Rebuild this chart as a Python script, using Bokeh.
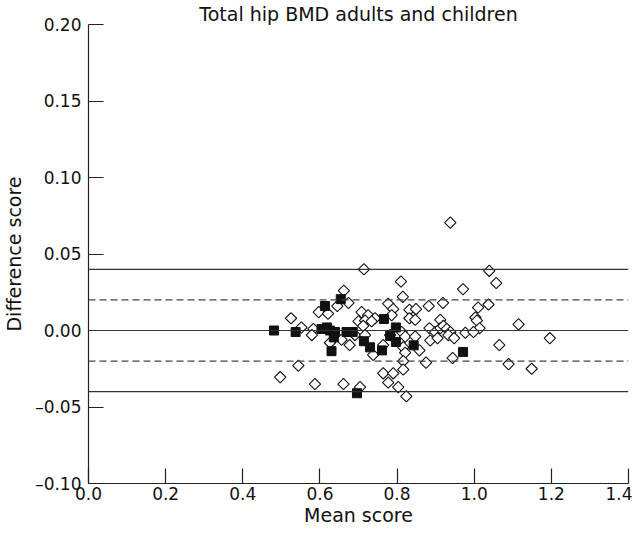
from bokeh.plotting import figure
from bokeh.models import FixedTicker, Span, Range1d
from bokeh.embed import file_html
from bokeh.resources import INLINE
import numpy as np

# Open diamonds: (mean score, difference score)
open_x = [0.714, 0.810, 0.662, 0.815, 0.674, 0.645, 0.597, 0.621, 0.525, 0.708,
          0.725, 0.743, 0.700, 0.717, 0.712, 0.734, 0.777, 0.790, 0.786, 0.552,
          0.583, 0.579, 0.656, 0.626, 0.677, 0.691, 0.738, 0.544, 0.497, 0.587,
          0.661, 0.704, 0.764, 0.790, 0.777, 0.803, 0.824, 0.816, 0.821, 0.816,
          0.816, 0.812, 0.821, 0.938, 1.039, 1.057, 0.971, 0.882, 0.919, 0.832,
          0.849, 0.832, 0.847, 1.010, 1.037, 1.003, 1.007, 0.912, 1.014, 1.115,
          1.196, 0.884, 0.899, 0.912, 0.920, 0.929, 0.938, 0.977, 0.998, 0.886,
          0.905, 0.933, 0.948, 0.858, 0.875, 0.944, 1.065, 1.089, 1.149, 0.847,
          0.717, 0.782, 0.764]
open_y = [0.040, 0.032, 0.026, 0.022, 0.018, 0.016, 0.012, 0.011, 0.008, 0.012,
          0.010, 0.008, 0.006, 0.0065, 0.003, 0.006, 0.0175, 0.014, 0.010, 0.002,
          0.001, -0.003, -0.006, -0.008, -0.0095, -0.003, -0.016, -0.023, -0.0305, -0.035,
          -0.035, -0.037, -0.028, -0.028, -0.034, -0.037, -0.043, -0.011, -0.0145, -0.020,
          -0.0255, -0.001, -0.004, 0.0705, 0.039, 0.031, 0.027, 0.016, 0.018, 0.0135,
          0.014, 0.008, 0.007, 0.015, 0.017, 0.0085, 0.0065, 0.007, 0.0015, 0.004,
          -0.005, 0.0015, -0.001, 0.0015, 0.003, 0.001, -0.001, -0.0015, -0.001, -0.0065,
          -0.005, -0.003, -0.005, -0.013, -0.021, -0.018, -0.0095, -0.022, -0.025, -0.004,
          -0.003, -0.003, -0.0095]

# Filled squares
fill_x = [0.481, 0.537, 0.613, 0.654, 0.604, 0.618, 0.626, 0.639, 0.636, 0.630,
          0.669, 0.685, 0.714, 0.730, 0.761, 0.766, 0.797, 0.782, 0.797, 0.696,
          0.843, 0.971]
fill_y = [0.000, -0.001, 0.016, 0.0205, 0.001, 0.002, 0.000, -0.001, -0.0045, -0.0135,
          -0.001, -0.001, -0.007, -0.011, -0.013, 0.0075, 0.002, -0.0035, -0.0075, -0.041,
          -0.0097, -0.014]

solid_lines = [0.04, 0.0, -0.04]
dashed_lines = [0.02, -0.02]

x_ticks = [0.0, 0.2, 0.4, 0.6, 0.8, 1.0, 1.2, 1.4]
y_ticks = [-0.10, -0.05, 0.0, 0.05, 0.10, 0.15, 0.20]
y_tick_labels = ["\u20130.10", "\u20130.05", "0.00", "0.05", "0.10", "0.15", "0.20"]
x_tick_labels = ["0.0", "0.2", "0.4", "0.6", "0.8", "1.0", "1.2", "1.4"]

FONT = "DejaVu Sans"

p = figure(width=632, height=528, output_backend="svg", toolbar_location=None,
           x_range=Range1d(0, 1.4), y_range=Range1d(-0.10, 0.20),
           title="Total hip BMD adults and children",
           min_border_left=81, min_border_right=4, min_border_top=18, min_border_bottom=40)

p.title.align = "center"
p.title.text_font = FONT
p.title.text_font_size = "19px"
p.title.text_font_style = "normal"
p.title.text_color = "#111111"
p.title.offset = 0
p.title.standoff = 0

p.outline_line_color = None
p.xgrid.grid_line_color = None
p.ygrid.grid_line_color = None
p.background_fill_color = "white"

for ax in (p.xaxis[0], p.yaxis[0]):
    ax.axis_line_color = "#222222"
    ax.axis_line_width = 1.2
    ax.major_tick_line_color = "#222222"
    ax.major_tick_line_width = 1.2
    ax.major_tick_in = 15
    ax.major_tick_out = 0
    ax.minor_tick_line_color = None
    ax.major_label_text_font = FONT
    ax.major_label_text_font_size = "17px"
    ax.major_label_text_color = "#111111"
    ax.axis_label_text_font = FONT
    ax.axis_label_text_font_size = "19px"
    ax.axis_label_text_font_style = "normal"
    ax.axis_label_text_color = "#111111"

p.xaxis.ticker = FixedTicker(ticks=x_ticks)
p.yaxis.ticker = FixedTicker(ticks=y_ticks)
p.xaxis.major_label_overrides = {t: s for t, s in zip(x_ticks, x_tick_labels)}
p.yaxis.major_label_overrides = {t: s for t, s in zip(y_ticks, y_tick_labels)}
p.xaxis.axis_label = "Mean score"
p.yaxis.axis_label = "Difference score"
p.xaxis.major_label_standoff = 3
p.yaxis.major_label_standoff = 7
p.xaxis.axis_label_standoff = 1
p.yaxis.axis_label_standoff = 7

for v in solid_lines:
    p.add_layout(Span(location=v, dimension="width", line_color="#333333", line_width=1.2))
for v in dashed_lines:
    p.add_layout(Span(location=v, dimension="width", line_color="#444444", line_width=1.2,
                      line_dash="7 4"))

p.scatter(open_x, open_y, marker="square", size=8, angle=np.pi / 4,
          fill_color="white", line_color="#111111", line_width=1.1)
p.scatter(fill_x, fill_y, marker="square", size=9,
          fill_color="#111111", line_color="#111111", line_width=1)

open("out.html", "w").write(file_html(p, INLINE))
